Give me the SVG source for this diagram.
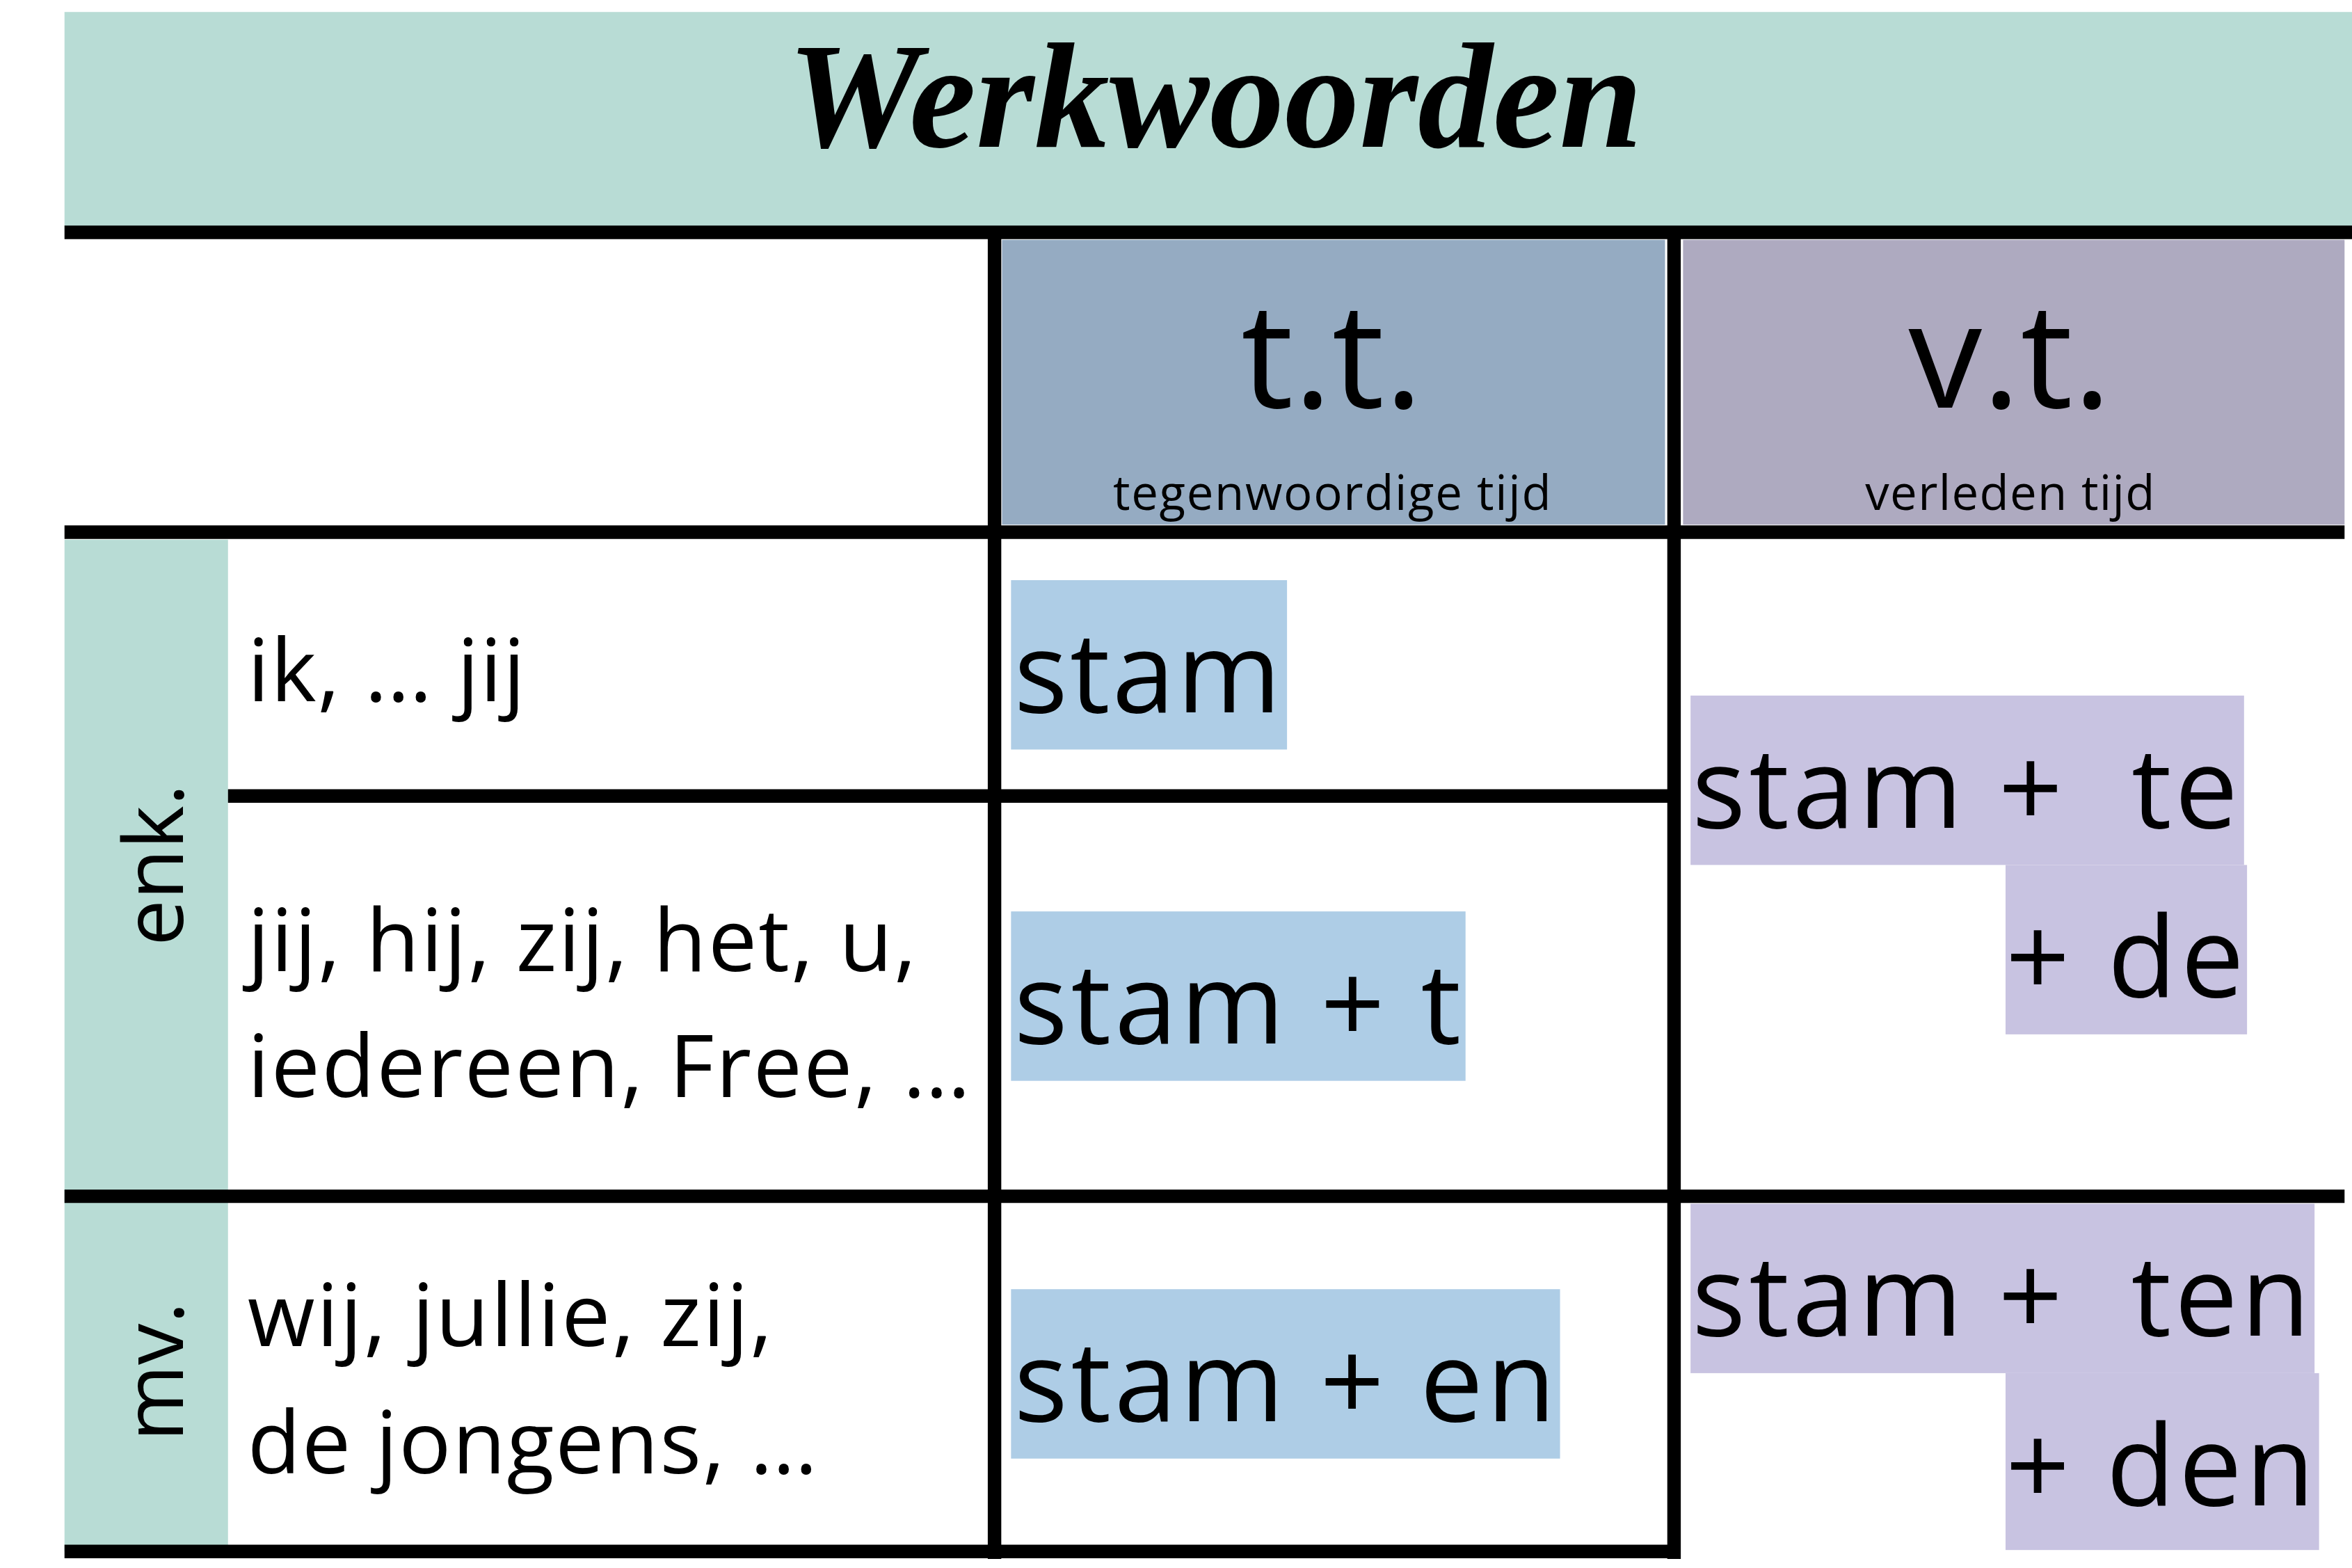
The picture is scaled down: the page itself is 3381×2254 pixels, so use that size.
<svg xmlns="http://www.w3.org/2000/svg" width="3381" height="2254" viewBox="0 0 3381 2254">
<style>
.t{font-family:"Open Sans","Liberation Sans",sans-serif;fill:#000}
.l{stroke:#000;stroke-width:9;fill:none}
.hl{fill:#aecde6}
.hv{fill:#c8c3e1}
</style>
<rect width="3381" height="2254" fill="#fff"/>
<g transform="scale(2.1563,2.1549)">
<g id="title"><rect x="43" y="8" width="1525" height="143" fill="#b8dcd5"/>
<text x="810" y="98" text-anchor="middle" font-family="Liberation Serif,serif" font-style="italic" font-weight="bold" font-size="100">Werkwoorden</text></g>
<g id="header-tt"><rect x="668" y="160" width="442" height="190" fill="#95abc2"/>
<text class="t" x="888" y="272" text-anchor="middle" font-size="98">t.t.</text>
<text class="t" x="888" y="340" text-anchor="middle" font-size="32" textLength="292">tegenwoordige tijd</text></g>
<g id="header-vt"><rect x="1122" y="160" width="441" height="190" fill="#aeaac0"/>
<text class="t" x="1340" y="272" text-anchor="middle" font-size="98">v.t.</text>
<text class="t" x="1340" y="340" text-anchor="middle" font-size="32" textLength="193">verleden tijd</text></g>
<g id="side"><rect x="43" y="360" width="109" height="675" fill="#b8dcd5"/>
<text class="t" transform="translate(122,577) rotate(-90)" text-anchor="middle" font-size="55">enk.</text>
<text class="t" transform="translate(122,915) rotate(-90)" text-anchor="middle" font-size="55">mv.</text></g>
<g id="subjects">
<text class="t" x="165" y="468" font-size="58" textLength="185">ik, … jij</text>
<text class="t" x="165" y="648" font-size="58" textLength="446">jij, hij, zij, het, u,</text>
<text class="t" x="165" y="732" font-size="58" textLength="482">iedereen, Free, …</text>
<text class="t" x="165" y="898" font-size="58" textLength="350">wij, jullie, zij,</text>
<text class="t" x="165" y="983" font-size="58" textLength="380">de jongens, …</text></g>
<g id="tt-cells">
<rect class="hl" x="674" y="387" width="184" height="113"/><text class="t" x="676" y="475" font-size="75" textLength="178">stam</text>
<rect class="hl" x="674" y="608" width="303" height="113"/><text class="t" x="676" y="696" font-size="75" textLength="298">stam + t</text>
<rect class="hl" x="674" y="860" width="366" height="113"/><text class="t" x="676" y="948" font-size="75" textLength="361">stam + en</text></g>
<g id="vt-cells">
<rect class="hv" x="1127" y="464" width="369" height="113"/><rect class="hv" x="1337" y="577" width="161" height="113"/>
<text class="t" x="1128" y="552" font-size="75" xml:space="preserve" textLength="364">stam +  te</text>
<text class="t" x="1337" y="665" font-size="75" textLength="159">+ de</text>
<rect class="hv" x="1127" y="803" width="416" height="113"/><rect class="hv" x="1337" y="916" width="209" height="118"/>
<text class="t" x="1128" y="891" font-size="75" xml:space="preserve" textLength="412">stam +  ten</text>
<text class="t" x="1337" y="1004" font-size="75" textLength="206">+ den</text></g>
<g id="connectors">
<line class="l" x1="43" y1="155" x2="1568" y2="155"/>
<line class="l" x1="43" y1="355" x2="1563" y2="355"/>
<line class="l" x1="152" y1="531" x2="1116" y2="531"/>
<line class="l" x1="43" y1="798" x2="1563" y2="798"/>
<line class="l" x1="43" y1="1035" x2="1116" y2="1035"/>
<line class="l" x1="663" y1="155" x2="663" y2="1040"/>
<line class="l" x1="1116" y1="155" x2="1116" y2="1040"/>
</g>
</g>
</svg>
